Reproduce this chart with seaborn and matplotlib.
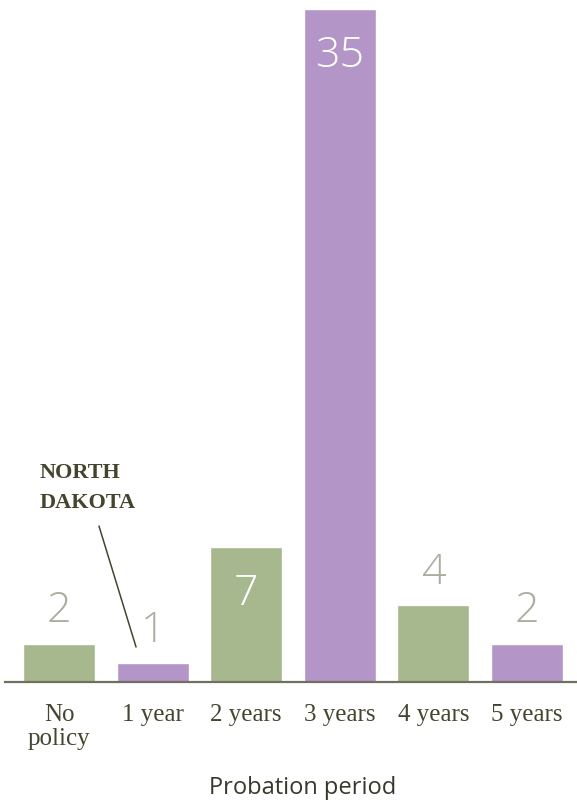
import matplotlib
matplotlib.use("Agg")
import matplotlib.pyplot as plt
import seaborn as sns

periods = ["No\npolicy", "1 year", "2 years", "3 years", "4 years", "5 years"]
states = [2, 1, 7, 35, 4, 2]
bar_colors = ["#a7b88e", "#b395c7", "#a7b88e", "#b395c7", "#a7b88e", "#b395c7"]
inside = [False, False, True, True, False, False]

sns.set_style("white")

fig = plt.figure(figsize=(5.77, 8.04), dpi=100)
ax = fig.add_axes([5 / 577, 1 - 683 / 804, 572 / 577, 683 / 804])

sns.barplot(x=periods, y=states, hue=periods, palette=bar_colors, legend=False,
            width=0.77, saturation=1, ax=ax)

ax.set_xlim(-0.577, 5.534)
ax.set_ylim(0, 35.52)
for s in ["top", "right", "left"]:
    ax.spines[s].set_visible(False)
ax.spines["bottom"].set_color("#707062")
ax.spines["bottom"].set_linewidth(1.6)
ax.set_yticks([])
ax.set_ylabel("")
ax.set_xlabel("")
ax.tick_params(axis="x", length=0, pad=15)
for lab in ax.get_xticklabels():
    lab.set_fontfamily("Liberation Serif")
    lab.set_fontsize(18)
    lab.set_color("#45452f")
    lab.set_linespacing(1.15)

# value labels
for i, (v, inn) in enumerate(zip(states, inside)):
    if inn:
        ax.annotate(str(v), (i, v), xytext=(0, -41), textcoords="offset points",
                    ha="center", va="baseline", fontsize=31, color="white",
                    family="Open Sans", fontweight="light")
    else:
        ax.annotate(str(v), (i, v), xytext=(0, 16), textcoords="offset points",
                    ha="center", va="baseline", fontsize=31, color="#a9aea0",
                    family="Open Sans", fontweight="light")

# North Dakota callout
fig.text(40 / 577, 1 - 488 / 804, "NORTH\nDAKOTA", ha="left", va="center",
         family="Liberation Serif", fontweight="bold", fontsize=16,
         color="#45452f", linespacing=1.7)
ax.annotate("", xy=(0.823, 1.82), xytext=(0.427, 8.11),
            arrowprops=dict(arrowstyle="-", color="#45452f", lw=1.1,
                            shrinkA=0, shrinkB=0))

fig.text(303 / 577, 1 - 788 / 804, "Probation period", ha="center", va="center",
         family="Open Sans", fontsize=17, color="#38382a")

fig.savefig("out.png", dpi=100)
